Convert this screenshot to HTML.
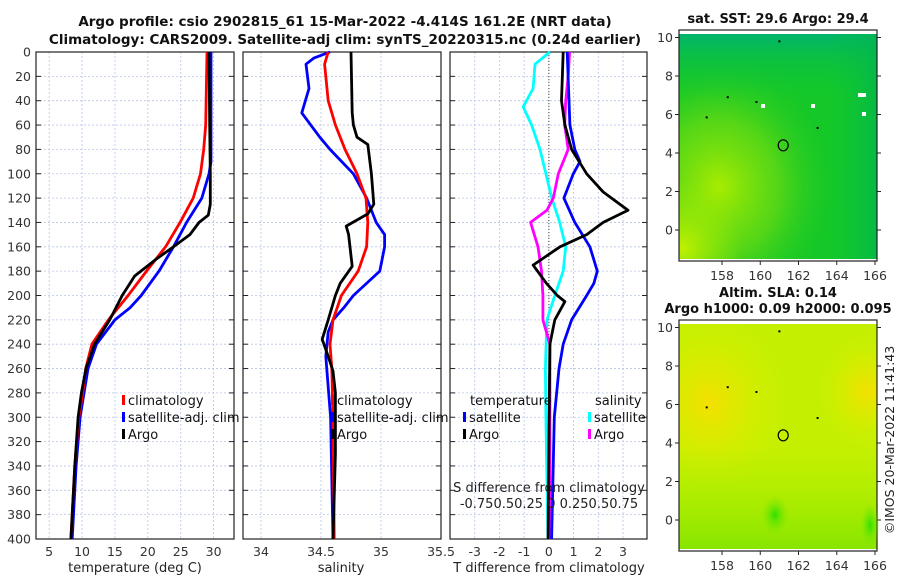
<!DOCTYPE html>
<html><head><meta charset="utf-8"><style>
html,body{margin:0;padding:0;background:#fff;}
svg{display:block;font-family:"DejaVu Sans","Liberation Sans",sans-serif;}
</style></head><body>
<svg id="fig" width="900" height="580" viewBox="0 0 900 580" xmlns="http://www.w3.org/2000/svg">
<defs>
<radialGradient id="sstYellow" cx="0.2" cy="0.68" r="0.6"><stop offset="0" stop-color="#a8ec00"/><stop offset="0.5" stop-color="#70dc10" stop-opacity="0.7"/><stop offset="1" stop-color="#20c820" stop-opacity="0"/></radialGradient>
<radialGradient id="sstYellow2" cx="0.02" cy="0.95" r="0.3"><stop offset="0" stop-color="#c0f000"/><stop offset="1" stop-color="#a0ec00" stop-opacity="0"/></radialGradient>
<linearGradient id="sstTop" x1="0" y1="0" x2="0" y2="1"><stop offset="0" stop-color="#00b46c"/><stop offset="0.12" stop-color="#08bc50" stop-opacity="0.6"/><stop offset="0.3" stop-color="#10c830" stop-opacity="0"/></linearGradient>
<linearGradient id="sstRight" x1="0" y1="0" x2="1" y2="0"><stop offset="0.75" stop-color="#08c040" stop-opacity="0"/><stop offset="1" stop-color="#00b450" stop-opacity="0.7"/></linearGradient>
<radialGradient id="slaOr1" cx="0.15" cy="0.35" r="0.4"><stop offset="0" stop-color="#f4e000"/><stop offset="1" stop-color="#d8f000" stop-opacity="0"/></radialGradient>
<radialGradient id="slaOr2" cx="0.95" cy="0.3" r="0.25"><stop offset="0" stop-color="#f4e000"/><stop offset="1" stop-color="#d8f000" stop-opacity="0"/></radialGradient>
<linearGradient id="slaBot" x1="0" y1="0" x2="0" y2="1"><stop offset="0.55" stop-color="#a0ec00" stop-opacity="0"/><stop offset="1" stop-color="#80e400" stop-opacity="0.9"/></linearGradient>
<radialGradient id="slaGreen" cx="0.5" cy="0.5" r="0.5"><stop offset="0" stop-color="#30e000"/><stop offset="1" stop-color="#80e800" stop-opacity="0"/></radialGradient>
</defs>
<g id="layer"></g>
</svg>
<script>
// ---- data ----
const tempDepth = [0,60,80,100,120,140,160,180,200,220,240,260,280,300,340,400];
const tempClim  = [29.0,28.8,28.5,28.0,26.9,24.9,22.7,19.8,17.0,14.0,11.5,10.55,10.1,9.5,8.9,8.3];
const satDepth  = [0,90,100,120,140,160,180,200,210,220,240,260,300,340,400];
const tempSat   = [29.6,29.6,29.3,28.2,25.9,23.9,21.7,19.0,17.3,15.0,12.2,10.9,9.7,9.1,8.5];
const argoDepth = [0,60,100,125,134,140,150,160,170,184,200,220,240,260,280,300,340,400];
const tempArgo  = [29.3,29.4,29.5,29.5,29.2,27.8,26.4,23.9,21.3,18.0,16.1,14.2,11.9,10.6,9.9,9.4,8.9,8.3];

const salClimDepth = [0,10,40,60,80,100,120,140,160,180,200,220,240,260,300,400];
const salClim      = [34.56,34.53,34.56,34.62,34.70,34.80,34.875,34.89,34.88,34.81,34.67,34.60,34.575,34.59,34.60,34.61];
const salSatDepth  = [0,5,10,30,50,70,80,100,120,140,150,160,180,200,210,220,230,250,300,400];
const salSat       = [34.575,34.44,34.375,34.40,34.34,34.49,34.575,34.77,34.88,34.96,35.03,35.03,34.99,34.77,34.69,34.60,34.56,34.54,34.58,34.60];
const salArgoDepth = [0,50,60,70,76,100,125,133,143,150,176,190,200,220,236,250,262,280,330,400];
const salArgo      = [34.75,34.76,34.77,34.80,34.89,34.92,34.94,34.89,34.71,34.73,34.76,34.66,34.62,34.56,34.51,34.56,34.60,34.62,34.62,34.60];

const dTSatDepth  = [0,60,80,90,100,120,140,160,180,190,200,220,240,260,300,400];
const dTSat       = [0.74,0.85,1.05,1.26,0.99,0.61,1.05,1.66,1.96,1.82,1.53,0.92,0.58,0.41,0.22,0.11];
const dTArgoDepth = [0,40,60,80,100,115,130,140,150,160,175,190,200,205,220,240,300,400];
const dTArgo      = [0.58,0.51,0.65,0.92,1.53,2.2,3.2,2.2,1.53,0.45,-0.64,-0.1,0.34,0.65,0.24,0.04,0.01,-0.03];
const dSSatDepth  = [0,10,30,45,60,80,100,120,140,160,180,200,220,260,300,400];
const dSSat       = [0.01,-0.14,-0.16,-0.26,-0.175,-0.09,-0.03,0.03,0.11,0.17,0.145,0.06,-0.02,-0.035,-0.03,-0.01];
const dSArgoDepth = [0,20,40,60,80,100,120,130,140,160,180,200,220,240,300,400];
const dSArgo      = [0.21,0.195,0.17,0.16,0.195,0.095,0.045,-0.02,-0.185,-0.11,-0.075,-0.06,-0.06,0.01,0.01,0.01];

const depthTicks = [0,20,40,60,80,100,120,140,160,180,200,220,240,260,280,300,320,340,360,380,400];
const tempTicks = [5,10,15,20,25,30];
const salTicks = [34,34.5,35,35.5];
const salTickLabels = ["34","34.5","35","35.5"];
const diffTicks = [-3,-2,-1,0,1,2,3];
const mapLonTicks = [158,160,162,164,166];
const mapLatTicks = [0,2,4,6,8,10];

// ---- helpers ----
const NS="http://www.w3.org/2000/svg";
const layer=document.getElementById('layer');
function mk(tag,attrs,parent,text){const e=document.createElementNS(NS,tag);for(const k in attrs)e.setAttribute(k,attrs[k]);if(text!==undefined)e.textContent=text;(parent||layer).appendChild(e);return e;}
const Y0=52,Y1=539;
const yD=d=>Y0+(Y1-Y0)*d/400;
function lin(d0,d1,r0,r1){return v=>r0+(v-d0)*(r1-r0)/(d1-d0);}

const panels=[
 {name:'temperature-panel',x0:36,x1:234,sx:lin(3,33.1,36,234)},
 {name:'salinity-panel',x0:243,x1:441,sx:lin(33.85,35.5,243,441)},
 {name:'difference-panel',x0:450,x1:647,sx:lin(-4,3.97,450,647)}
];

function frame(p,xticks,labels){
 const g=mk('g',{});
 
 
 xticks.forEach(t=>{const x=p.sx(t);mk('line',{x1:x,y1:Y0,x2:x,y2:Y1,stroke:'#b8c4e8','stroke-width':0.8,'stroke-dasharray':'2,2'},g);});
 depthTicks.forEach(d=>{const y=yD(d);mk('line',{x1:p.x0,y1:y,x2:p.x1,y2:y,stroke:'#b8c4e8','stroke-width':0.8,'stroke-dasharray':'2,2'},g);
  mk('line',{x1:p.x0,y1:y,x2:p.x0+5,y2:y,stroke:'#222','stroke-width':1},g);
  mk('line',{x1:p.x1-5,y1:y,x2:p.x1,y2:y,stroke:'#222','stroke-width':1},g);});
 mk('rect',{x:p.x0,y:Y0,width:p.x1-p.x0,height:Y1-Y0,fill:'none',stroke:'#222','stroke-width':1.2},g);
 xticks.forEach((t,i)=>{const tl=mk('text',{x:p.sx(t),y:556,'font-size':12.5,fill:'#333','text-anchor':'middle'},g,labels[i]);
  
  });
 return g;
}
function line(p,g,xs,ds,color,name,xf){
 const pts=xs.map((v,i)=>p.sx(xf?xf(v):v).toFixed(1)+','+yD(ds[i]).toFixed(1)).join(' ');
 const l=mk('polyline',{points:pts,fill:'none',stroke:color,'stroke-width':2.8,'stroke-linejoin':'round'},g);
 
 
}

const g1=frame(panels[0],tempTicks,tempTicks.map(String));
depthTicks.forEach(d=>{const t=mk('text',{x:31,y:yD(d)+4.5,'font-size':12.5,fill:'#333','text-anchor':'end'},g1,String(d));
 
 });
line(panels[0],g1,tempSat,satDepth,'#0000ff','temp-satellite-line');
line(panels[0],g1,tempClim,tempDepth,'#ff0000','temp-climatology-line');
line(panels[0],g1,tempArgo,argoDepth,'#000000','temp-argo-line');
const g2=frame(panels[1],salTicks,salTickLabels);
line(panels[1],g2,salSat,salSatDepth,'#0000ff','salinity-satellite-line');
line(panels[1],g2,salClim,salClimDepth,'#ff0000','salinity-climatology-line');
line(panels[1],g2,salArgo,salArgoDepth,'#000000','salinity-argo-line');
const g3=frame(panels[2],diffTicks,diffTicks.map(String));
mk('line',{x1:panels[2].sx(0),y1:Y0,x2:panels[2].sx(0),y2:Y1,stroke:'#444','stroke-width':1,'stroke-dasharray':'1,2'},g3);
const sToT=v=>v*4;
line(panels[2],g3,dSSat,dSSatDepth,'#00ffff','salinity-diff-satellite-line',sToT);
line(panels[2],g3,dSArgo,dSArgoDepth,'#ff00ff','salinity-diff-argo-line',sToT);
line(panels[2],g3,dTSat,dTSatDepth,'#0000ff','temp-diff-satellite-line');
line(panels[2],g3,dTArgo,dTArgoDepth,'#000000','temp-diff-argo-line');

function legend(x,y,items,name){
 const g=mk('g',{});
 
 
 items.forEach((it,i)=>{const yy=y+i*17;
  mk('rect',{x:x,y:yy-9,width:3,height:10,fill:it[1]},g);
  mk('text',{x:x+6,y:yy+1,'font-size':13,fill:'#111'},g,it[0]);});
}
legend(122,404,[['climatology','#ff0000'],['satellite-adj. clim','#0000ff'],['Argo','#000000']],'temperature-legend');
legend(331,404,[['climatology','#ff0000'],['satellite-adj. clim','#0000ff'],['Argo','#000000']],'salinity-legend');
mk('text',{x:470,y:405,'font-size':13,fill:'#111'},layer,'temperature');
mk('text',{x:595,y:405,'font-size':13,fill:'#111'},layer,'salinity');
legend(463,421,[['satellite','#0000ff'],['Argo','#000000']],'diff-temperature-legend');
legend(588,421,[['satellite','#00ffff'],['Argo','#ff00ff']],'diff-salinity-legend');

const lab=[[135,572,'temperature (deg C)','x-axis-title-temperature'],[341,572,'salinity','x-axis-title-salinity'],[549,572,'T difference from climatology','x-axis-title-t-diff'],[549,492,'S difference from climatology','s-diff-axis-title'],[549,508,'-0.750.50.25 0  0.250.50.75','s-diff-tick-labels']];
lab.forEach(l=>{const t=mk('text',{x:l[0],y:l[1],'font-size':13,fill:'#222','text-anchor':'middle','xml:space':'preserve'},layer,l[2]);
 
 });
[[345,26,'Argo profile: csio 2902815_61 15-Mar-2022 -4.414S 161.2E (NRT data)'],[345,44,'Climatology: CARS2009. Satellite-adj clim: synTS_20220315.nc (0.24d earlier)']].forEach(l=>{
 const t=mk('text',{x:l[0],y:l[1],'font-size':13.5,'font-weight':'bold',fill:'#111','text-anchor':'middle'},layer,l[2]);
 
 });

function map(top,name,titles,fills){
 const g=mk('g',{});
 
 
 const x0=679,x1=877,y0=top,y1=top+231;
 const sx=lin(158,166,722,875), sy=lin(0,10,top+200,top+7.5);
 fills.forEach(f=>mk('rect',{x:x0,y:y0+4,width:x1-x0,height:y1-y0-6,fill:f},g));
 mk('rect',{x:x0,y:y0,width:x1-x0,height:y1-y0,fill:'none',stroke:'#222','stroke-width':1.2},g);
 mapLonTicks.forEach(t=>{const x=sx(t);mk('line',{x1:x,y1:y1,x2:x,y2:y1+4,stroke:'#222'},g);
  mk('text',{x:x,y:y1+19,'font-size':12.5,fill:'#333','text-anchor':'middle'},g,String(t));});
 mapLatTicks.forEach(t=>{const y=sy(t);mk('line',{x1:x0-4,y1:y,x2:x0,y2:y,stroke:'#222'},g);mk('line',{x1:x1,y1:y,x2:x1+4,y2:y,stroke:'#222'},g);
  mk('text',{x:x0-6,y:y+4.5,'font-size':12.5,fill:'#333','text-anchor':'end'},g,String(t));});
 mk('ellipse',{cx:sx(161.2),cy:sy(4.4),rx:5,ry:5.5,fill:'none',stroke:'#000','stroke-width':1.2},g);
 [[158.3,6.9],[163,5.3],[161,9.8],[157.2,5.85],[159.8,6.65]].forEach(p=>mk('rect',{x:sx(p[0])-1,y:sy(p[1])-1,width:2,height:2,fill:'#000'},g));
 titles.forEach(t=>mk('text',{x:778,y:t[0],'font-size':13,'font-weight':'bold',fill:'#111','text-anchor':'middle'},g,t[1]));
 return g;
}
const m1=map(30,'sst-map',[[23,'sat. SST: 29.6 Argo: 29.4']],['#14c828','url(#sstYellow)','url(#sstYellow2)','url(#sstTop)','url(#sstRight)']);
[[761,104,4,4],[811,104,4,4],[858,93,8,4],[862,112,4,4]].forEach(p=>mk('rect',{x:p[0],y:p[1],width:p[2],height:p[3],fill:'#fff'},m1));
const m2=map(320,'sla-map',[[297,'Altim. SLA: 0.14'],[313,'Argo h1000: 0.09 h2000: 0.095']],['#c4f000','url(#slaOr1)','url(#slaOr2)','url(#slaBot)']);
mk('ellipse',{cx:775,cy:515,rx:14,ry:20,fill:'url(#slaGreen)'},m2);
mk('ellipse',{cx:870,cy:525,rx:10,ry:22,fill:'url(#slaGreen)'},m2);
const cr=mk('text',{x:0,y:0,'font-size':12.5,fill:'#222','text-anchor':'middle',transform:'translate(894,440) rotate(-90)'},layer,'©IMOS 20-Mar-2022 11:41:43');


</script>
</body></html>
